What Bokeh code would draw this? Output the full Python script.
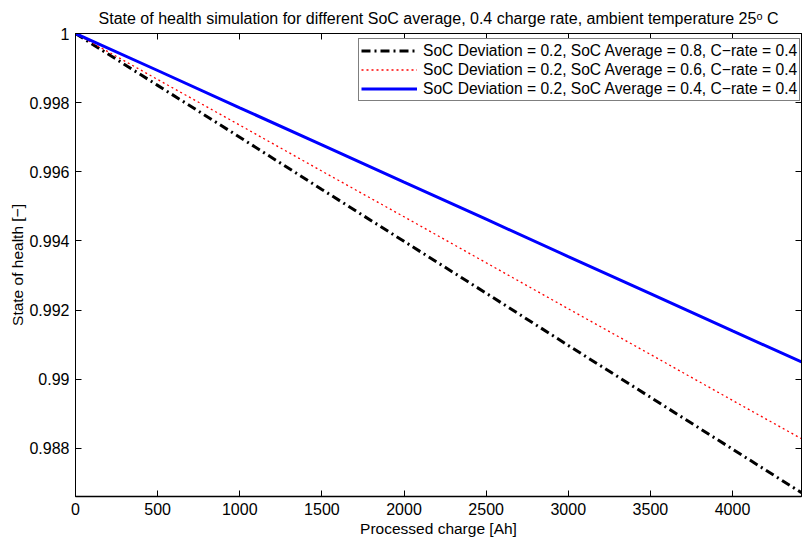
from bokeh.plotting import figure
from bokeh.models import LinearAxis, FixedTicker, Range1d, Legend, LegendItem
from bokeh.embed import file_html
from bokeh.resources import INLINE

# Data
charge = [0, 500, 1000, 1500, 2000, 2500, 3000, 3500, 4000, 4420]
soh_avg08 = [1.0, 0.99850, 0.99700, 0.99549, 0.99399, 0.99249, 0.99098, 0.98948, 0.98798, 0.98672]
soh_avg06 = [1.0, 0.99867, 0.99735, 0.99602, 0.99470, 0.99337, 0.99204, 0.99072, 0.98939, 0.98828]
soh_avg04 = [1.0, 0.99893, 0.99785, 0.99678, 0.99570, 0.99463, 0.99355, 0.99248, 0.99140, 0.99050]

labels = [
    "SoC Deviation = 0.2, SoC Average = 0.8, C\u2212rate = 0.4",
    "SoC Deviation = 0.2, SoC Average = 0.6, C\u2212rate = 0.4",
    "SoC Deviation = 0.2, SoC Average = 0.4, C\u2212rate = 0.4",
]
x_ticks = [0, 500, 1000, 1500, 2000, 2500, 3000, 3500, 4000]
y_ticks = [0.988, 0.990, 0.992, 0.994, 0.996, 0.998, 1.0]
y_tick_labels = ["0.988", "0.99", "0.992", "0.994", "0.996", "0.998", "1"]

FONT = "Liberation Sans"

p = figure(width=802, height=543, output_backend="svg", toolbar_location=None,
           x_range=Range1d(0, 4420), y_range=Range1d(0.98661, 1.0),
           x_axis_location=None, y_axis_location=None,
           min_border_left=75, min_border_right=1, min_border_top=32, min_border_bottom=47)
p.title.text = "State of health simulation for different SoC average, 0.4 charge rate, ambient temperature 25\u1d52 C"
p.title.text_font = FONT
p.title.text_font_size = "16px"
p.title.text_font_style = "normal"
p.title.text_color = "black"
p.title.align = "center"
p.title.offset = 0
p.title.standoff = 14

p.grid.visible = False
p.outline_line_color = "black"
p.outline_line_width = 1
p.background_fill_color = "white"
p.border_fill_color = "white"

def style_axis(ax, show_labels=True):
    ax.major_tick_in = 6
    ax.major_tick_out = 0
    ax.minor_tick_line_color = None
    ax.axis_line_color = "black"
    ax.major_tick_line_color = "black"
    ax.major_label_text_font = FONT
    ax.major_label_text_font_size = "16px" if show_labels else "0px"
    ax.major_label_text_color = "black" if show_labels else None
    ax.axis_label_text_font = FONT
    ax.axis_label_text_font_size = "15.5px"
    ax.axis_label_text_font_style = "normal"
    ax.axis_label_text_color = "black"

xb = LinearAxis(ticker=FixedTicker(ticks=x_ticks), axis_label="Processed charge [Ah]")
style_axis(xb)
xb.axis_line_width = 1.5
xb.major_label_standoff = 6
xb.axis_label_standoff = 2
p.add_layout(xb, "below")

yl = LinearAxis(ticker=FixedTicker(ticks=y_ticks), axis_label="State of health [\u2212]")
style_axis(yl)
yl.major_label_overrides = {t: s for t, s in zip(y_ticks, y_tick_labels)}
yl.major_label_standoff = 6
yl.axis_label_standoff = 0
p.add_layout(yl, "left")

xt = LinearAxis(ticker=FixedTicker(ticks=x_ticks))
style_axis(xt, False)
xt.major_label_standoff = 0
p.add_layout(xt, "above")

yr = LinearAxis(ticker=FixedTicker(ticks=y_ticks))
style_axis(yr, False)
yr.major_label_standoff = 0
p.add_layout(yr, "right")

r1 = p.line(charge, soh_avg08, line_color="black", line_width=3, line_dash="9 4 2 4")
r2 = p.line(charge, soh_avg06, line_color="red", line_width=1.3, line_dash="2 3")
r3 = p.line(charge, soh_avg04, line_color="blue", line_width=3)

legend = Legend(items=[LegendItem(label=labels[0], renderers=[r1]),
                       LegendItem(label=labels[1], renderers=[r2]),
                       LegendItem(label=labels[2], renderers=[r3])],
                location=(283, 395))
legend.label_text_font = FONT
legend.label_text_font_size = "15.6px"
legend.label_text_color = "black"
legend.border_line_color = "black"
legend.border_line_width = 1
legend.background_fill_alpha = 1
legend.padding = 2
legend.spacing = 0
legend.margin = 0
legend.glyph_width = 56
legend.glyph_height = 19
legend.label_height = 19
legend.label_standoff = 6
p.add_layout(legend, "center")

open("out.html", "w").write(file_html(p, INLINE))
